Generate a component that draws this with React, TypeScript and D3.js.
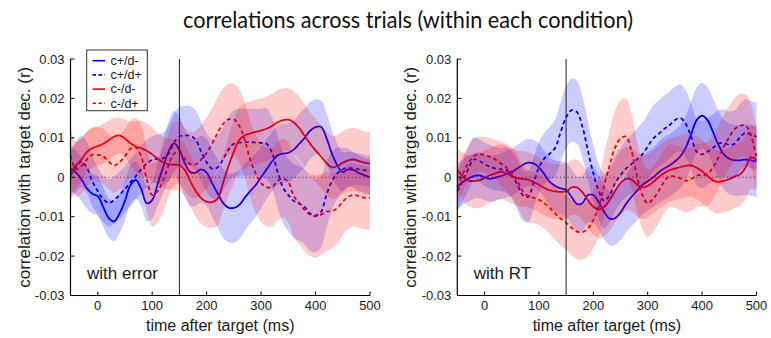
import React from "react";
import * as d3 from "d3";

const time = [-50, -40, -30, -20, -10, 0, 10, 20, 30, 40, 50, 60, 70, 80, 90, 100, 110, 120, 130, 140, 150, 160, 170, 180, 190, 200, 210, 220, 230, 240, 250, 260, 270, 280, 290, 300, 310, 320, 330, 340, 350, 360, 370, 380, 390, 400, 410, 420, 430, 440, 450, 460, 470, 480, 490, 500];

const xTicks = [0, 100, 200, 300, 400, 500];
const yTicks = [-0.03, -0.02, -0.01, 0, 0.01, 0.02, 0.03];
const seriesNames = ["c+/d-", "c+/d+", "c-/d-", "c-/d+"];
const panelLabels = ["with error", "with RT"];

// ---- left panel: with error ----
const errBlueSolid = [0.0022, 0.0012, -0.0005, -0.0028, -0.0042, -0.0048, -0.0075, -0.0103, -0.0112, -0.0092,
  -0.006, -0.002, -0.0007, -0.003, -0.0066, -0.0058, -0.0018, 0.0025, 0.0065, 0.0086,
  0.007, 0.0035, 0.0013, 0.0012, 0.002, 0.0012, -0.0015, -0.004, -0.0065, -0.0077,
  -0.0078, -0.007, -0.0052, -0.0035, -0.002, 0.0, 0.002, 0.004, 0.0055, 0.006,
  0.0062, 0.007, 0.0085, 0.01, 0.0118, 0.0127, 0.0128, 0.01, 0.006, 0.003,
  0.0013, 0.002, 0.0018, 0.001, 0.0005, 0.0];
const errBlueDashed = [0.0005, 0.0025, 0.004, 0.0025, -0.001, -0.0035, -0.0055, -0.0065, -0.0058, -0.0045,
  -0.003, -0.0013, 0.0003, 0.002, 0.0035, 0.0044, 0.0047, 0.0048, 0.006, 0.0088,
  0.0103, 0.0106, 0.0105, 0.0095, 0.0065, 0.0038, 0.0022, 0.0025, 0.0045, 0.007,
  0.0085, 0.0088, 0.0089, 0.0089, 0.0088, 0.0087, 0.0085, 0.0062, 0.0015, -0.0025,
  -0.0045, -0.006, -0.0067, -0.0075, -0.0092, -0.0097, -0.0088, -0.0045, -0.001, 0.001,
  0.002, 0.0024, 0.0022, 0.002, 0.0018, 0.0015];
const errRedSolid = [0.0012, 0.003, 0.0045, 0.0064, 0.0074, 0.0079, 0.0085, 0.0094, 0.0103, 0.0106,
  0.0098, 0.0086, 0.0078, 0.0074, 0.0067, 0.0058, 0.0047, 0.0038, 0.0033, 0.0032,
  0.0031, 0.0018, -0.001, -0.0035, -0.0053, -0.0062, -0.0063, -0.0055, -0.0015, 0.0028,
  0.0065, 0.0095, 0.0106, 0.0111, 0.0115, 0.0118, 0.0123, 0.013, 0.0139, 0.0145,
  0.0146, 0.0139, 0.0125, 0.0105, 0.0085, 0.0068, 0.0053, 0.0036, 0.0025, 0.0028,
  0.0037, 0.0043, 0.0045, 0.0041, 0.0037, 0.0035];
const errRedDashed = [0.0055, 0.002, 0.0028, 0.0045, 0.0057, 0.0057, 0.0053, 0.004, 0.003, 0.0038,
  0.0053, 0.0072, 0.0075, 0.0052, -0.0005, -0.0045, -0.0035, -0.0008, 0.003, 0.006,
  0.0063, 0.0047, 0.0033, 0.0033, 0.0045, 0.0062, 0.0085, 0.0112, 0.0135, 0.0147,
  0.0147, 0.013, 0.0095, 0.0045, 0.001, -0.0015, -0.0025, -0.0025, -0.001, -0.0003,
  -0.0012, -0.0048, -0.0065, -0.0083, -0.0095, -0.0099, -0.0095, -0.0087, -0.0086, -0.0078,
  -0.0062, -0.005, -0.0045, -0.0048, -0.0052, -0.0052];

const errBlueSolidCI = [0.0055, 0.0055, 0.0055, 0.0052, 0.005, 0.005, 0.005, 0.005, 0.005, 0.005,
  0.005, 0.005, 0.0048, 0.0045, 0.0045, 0.0048, 0.0055, 0.0065, 0.0075, 0.0082,
  0.0085, 0.0085, 0.0085, 0.0085, 0.0085, 0.0085, 0.0085, 0.0087, 0.0088, 0.0088,
  0.0088, 0.0087, 0.0085, 0.0082, 0.008, 0.0078, 0.0076, 0.0075, 0.0075, 0.0075,
  0.0075, 0.0075, 0.0075, 0.0075, 0.0073, 0.007, 0.0068, 0.0065, 0.006, 0.0055,
  0.005, 0.0045, 0.0045, 0.0045, 0.0045, 0.0045];
const errBlueDashedCI = [0.006, 0.0063, 0.0065, 0.0065, 0.0063, 0.006, 0.006, 0.006, 0.006, 0.006,
  0.006, 0.006, 0.006, 0.006, 0.006, 0.006, 0.0062, 0.0065, 0.007, 0.0073,
  0.0075, 0.0075, 0.0075, 0.0075, 0.0075, 0.0075, 0.0075, 0.0078, 0.008, 0.0082,
  0.0085, 0.0085, 0.0085, 0.0085, 0.0085, 0.0087, 0.009, 0.009, 0.009, 0.009,
  0.0092, 0.0093, 0.0094, 0.0095, 0.0095, 0.0093, 0.009, 0.0085, 0.0075, 0.0065,
  0.0055, 0.0048, 0.0042, 0.004, 0.004, 0.004];
const errRedSolidCI = [0.006, 0.0058, 0.0055, 0.0052, 0.005, 0.005, 0.005, 0.005, 0.0048, 0.0045,
  0.0048, 0.0055, 0.0065, 0.007, 0.007, 0.0068, 0.0065, 0.0065, 0.0065, 0.0065,
  0.0065, 0.0065, 0.0065, 0.0065, 0.0065, 0.0065, 0.0065, 0.0068, 0.007, 0.0075,
  0.008, 0.0082, 0.0082, 0.0082, 0.0082, 0.0082, 0.0082, 0.0082, 0.0082, 0.008,
  0.008, 0.008, 0.008, 0.008, 0.008, 0.008, 0.008, 0.008, 0.008, 0.008,
  0.008, 0.008, 0.008, 0.008, 0.008, 0.008];
const errRedDashedCI = [0.007, 0.007, 0.007, 0.007, 0.007, 0.007, 0.007, 0.007, 0.007, 0.007,
  0.007, 0.0072, 0.0075, 0.0078, 0.008, 0.008, 0.008, 0.008, 0.008, 0.008,
  0.008, 0.008, 0.0082, 0.0085, 0.0088, 0.009, 0.009, 0.009, 0.009, 0.009,
  0.009, 0.0092, 0.0095, 0.0097, 0.0099, 0.01, 0.01, 0.01, 0.01, 0.01,
  0.0102, 0.0104, 0.0105, 0.0105, 0.0105, 0.0105, 0.0103, 0.01, 0.0095, 0.009,
  0.0085, 0.0082, 0.008, 0.008, 0.008, 0.008];

// ---- right panel: with RT ----
const rtBlueSolid = [-0.0025, -0.0012, -0.0004, 0.0003, 0.0005, 0.0, -0.0004, -0.0001, 0.0003, 0.0008,
  0.0013, 0.0022, 0.0031, 0.0037, 0.0035, 0.0025, 0.0008, -0.0012, -0.0022, -0.0028,
  -0.0032, -0.005, -0.0068, -0.0066, -0.0045, -0.0045, -0.0063, -0.0088, -0.0105, -0.0104,
  -0.009, -0.0068, -0.005, -0.0035, -0.002, -0.001, 0.0, 0.0012, 0.0022, 0.003,
  0.004, 0.0053, 0.0075, 0.011, 0.0145, 0.0156, 0.0145, 0.0115, 0.0082, 0.0058,
  0.0047, 0.0043, 0.0043, 0.0045, 0.0043, 0.004];
const rtBlueDashed = [-0.0035, -0.001, 0.002, 0.0045, 0.0042, 0.0033, 0.0027, 0.0022, 0.002, 0.0018,
  0.0005, -0.0018, -0.0045, -0.005, -0.0015, 0.0025, 0.0048, 0.006, 0.0075, 0.0115,
  0.0152, 0.017, 0.0165, 0.0128, 0.0068, 0.001, -0.0035, -0.006, -0.0045, -0.0015,
  0.0005, 0.0022, 0.0033, 0.0045, 0.0058, 0.0078, 0.0098, 0.011, 0.0122, 0.0132,
  0.0145, 0.015, 0.0135, 0.0102, 0.0065, 0.0058, 0.0065, 0.0075, 0.0085, 0.0087,
  0.0082, 0.0085, 0.0102, 0.0113, 0.0108, 0.0103];
const rtRedSolid = [0.0018, 0.0003, -0.0008, -0.001, -0.0008, -0.0002, 0.0005, 0.001, 0.0014, 0.001,
  0.0003, -0.0002, -0.0004, -0.0006, -0.0012, -0.0019, -0.0027, -0.0033, -0.0036, -0.0037,
  -0.0036, -0.0026, -0.0026, -0.0038, -0.0058, -0.0075, -0.0082, -0.0075, -0.0058, -0.0035,
  -0.0015, -0.0004, -0.0006, -0.0018, -0.0026, -0.0022, -0.0012, 0.0, 0.001, 0.0018,
  0.0022, 0.0026, 0.0029, 0.003, 0.0024, 0.0015, 0.0003, -0.0008, -0.0012, -0.0009,
  -0.0005, 0.0002, 0.0008, 0.0025, 0.0051, 0.0045];
const rtRedDashed = [-0.0025, 0.0008, 0.0035, 0.0053, 0.0058, 0.0057, 0.0052, 0.0045, 0.0035, 0.0025,
  0.0013, -0.0008, -0.0035, -0.0048, -0.0052, -0.0057, -0.0066, -0.0078, -0.0092, -0.0105,
  -0.0115, -0.0128, -0.0138, -0.0139, -0.013, -0.0108, -0.0075, -0.002, 0.003, 0.0075,
  0.0098, 0.0103, 0.0068, 0.0005, -0.0045, -0.0066, -0.0055, -0.0035, -0.0012, 0.0003,
  0.0002, -0.0003, -0.0009, -0.0005, 0.0005, 0.0005, 0.0008, 0.0025, 0.005, 0.0078,
  0.0102, 0.0122, 0.0131, 0.0131, 0.0105, 0.005];

const rtBlueSolidCI = [0.0058, 0.0058, 0.0058, 0.0058, 0.0058, 0.0058, 0.0058, 0.0058, 0.0058, 0.006,
  0.006, 0.006, 0.006, 0.006, 0.006, 0.006, 0.006, 0.0062, 0.0065, 0.0068,
  0.007, 0.007, 0.007, 0.007, 0.007, 0.007, 0.007, 0.007, 0.0068, 0.0068,
  0.007, 0.0072, 0.0075, 0.0075, 0.0075, 0.0075, 0.0076, 0.0078, 0.008, 0.008,
  0.008, 0.008, 0.0082, 0.0083, 0.0083, 0.0083, 0.0083, 0.0085, 0.0087, 0.0088,
  0.009, 0.009, 0.009, 0.009, 0.009, 0.009];
const rtBlueDashedCI = [0.005, 0.0052, 0.0055, 0.0055, 0.0055, 0.0055, 0.0055, 0.0055, 0.0055, 0.0058,
  0.006, 0.0063, 0.0065, 0.0065, 0.0065, 0.0065, 0.0065, 0.0068, 0.0072, 0.0076,
  0.008, 0.008, 0.008, 0.0078, 0.0075, 0.0072, 0.007, 0.007, 0.007, 0.007,
  0.007, 0.0072, 0.0075, 0.0078, 0.008, 0.0082, 0.0084, 0.0085, 0.0085, 0.0085,
  0.0085, 0.0085, 0.0085, 0.0085, 0.0085, 0.0085, 0.0085, 0.0085, 0.0085, 0.0085,
  0.0085, 0.0085, 0.0085, 0.0085, 0.0085, 0.0085];
const rtRedSolidCI = [0.0055, 0.006, 0.0065, 0.0068, 0.007, 0.007, 0.007, 0.007, 0.007, 0.007,
  0.007, 0.007, 0.007, 0.007, 0.007, 0.007, 0.007, 0.007, 0.007, 0.007,
  0.007, 0.007, 0.007, 0.007, 0.007, 0.007, 0.0072, 0.0075, 0.0078, 0.008,
  0.008, 0.008, 0.008, 0.008, 0.008, 0.008, 0.008, 0.008, 0.008, 0.008,
  0.008, 0.008, 0.008, 0.008, 0.008, 0.008, 0.008, 0.008, 0.008, 0.008,
  0.008, 0.008, 0.008, 0.008, 0.008, 0.008];
const rtRedDashedCI = [0.0045, 0.0045, 0.0045, 0.0045, 0.0045, 0.0045, 0.0048, 0.005, 0.0055, 0.006,
  0.0062, 0.0065, 0.0065, 0.0065, 0.0065, 0.0065, 0.0065, 0.0066, 0.0067, 0.0068,
  0.0069, 0.007, 0.007, 0.007, 0.007, 0.0072, 0.0075, 0.008, 0.0088, 0.0095,
  0.0097, 0.0097, 0.0095, 0.009, 0.0087, 0.0085, 0.0083, 0.0082, 0.008, 0.008,
  0.008, 0.008, 0.008, 0.008, 0.008, 0.008, 0.008, 0.008, 0.008, 0.008,
  0.008, 0.008, 0.008, 0.008, 0.008, 0.0078];

const BLUE = "#0000ff";
const RED = "#ff0000";
const styles = [
  { color: BLUE, dash: null },
  { color: BLUE, dash: "4,3" },
  { color: RED, dash: null },
  { color: RED, dash: "4,3" },
];

const FONT = "'Liberation Sans', Arial, sans-serif";
const Y_TOP = 59;
const Y_BOT = 295.5;

function fmtY(v: number) {
  if (Math.abs(v) < 1e-9) return "0";
  return v.toFixed(2);
}

type PanelProps = {
  x0: number;
  x1: number;
  means: number[][];
  cis: number[][];
  label: string;
  showLegend: boolean;
};

function Panel({ x0, x1, means, cis, label, showLegend }: PanelProps) {
  const x = d3.scaleLinear().domain([-50, 500]).range([x0, x1]);
  const y = d3.scaleLinear().domain([-0.03, 0.03]).range([Y_BOT, Y_TOP]);
  const curve = d3.curveCatmullRom.alpha(0.5);
  const line = d3
    .line<number>()
    .x((_, i) => x(time[i]))
    .y((d) => y(d))
    .curve(curve);
  const area = (m: number[], e: number[]) =>
    d3
      .area<number>()
      .x((_, i) => x(time[i]))
      .y0((d, i) => y(d - e[i]))
      .y1((d, i) => y(d + e[i]))
      .curve(curve)(m) || "";

  const ylabX = x0 - 41;
  const ymid = (Y_TOP + Y_BOT) / 2;
  return (
    <g>
      <line x1={x0} x2={x1} y1={y(0)} y2={y(0)} stroke="#555" strokeWidth={1.1} strokeDasharray="1.2,2.6" />
      {means.map((m, k) => (
        <path
          key={"l" + k}
          d={line(m) || ""}
          fill="none"
          stroke={styles[k].color}
          strokeWidth={1.8}
          strokeDasharray={styles[k].dash || undefined}
        />
      ))}
      {means.map((m, k) => (
        <path key={"a" + k} d={area(m, cis[k])} fill={styles[k].color} fillOpacity={0.2} stroke="none" />
      ))}
      <line x1={x(150)} x2={x(150)} y1={Y_TOP} y2={Y_BOT} stroke="#222" strokeWidth={1} />
      <line x1={x0} x2={x0} y1={Y_TOP} y2={Y_BOT} stroke="#000" strokeWidth={1.2} />
      <line x1={x0} x2={x1} y1={Y_BOT} y2={Y_BOT} stroke="#000" strokeWidth={1.2} />
      {yTicks.map((t) => (
        <g key={"yt" + t}>
          <line x1={x0} x2={x0 + 4} y1={y(t)} y2={y(t)} stroke="#000" strokeWidth={1} />
          <text x={x0 - 6} y={y(t) + 4.5} textAnchor="end" fontFamily={FONT} fontSize={13} fill="#1a1a1a">
            {fmtY(t)}
          </text>
        </g>
      ))}
      {xTicks.map((t) => (
        <g key={"xt" + t}>
          <line x1={x(t)} x2={x(t)} y1={Y_BOT} y2={Y_BOT - 4} stroke="#000" strokeWidth={1} />
          <text x={x(t)} y={310} textAnchor="middle" fontFamily={FONT} fontSize={13} fill="#1a1a1a">
            {String(t)}
          </text>
        </g>
      ))}
      <text x={(x0 + x1) / 2} y={331} textAnchor="middle" fontFamily={FONT} fontSize={16} fill="#1a1a1a">
        time after target (ms)
      </text>
      <text
        transform={`translate(${ylabX},${ymid}) rotate(-90)`}
        textAnchor="middle"
        fontFamily={FONT}
        fontSize={17}
        fill="#1a1a1a"
      >
        correlation with target dec. (r)
      </text>
      <text x={x0 + 16.5} y={279} fontFamily={FONT} fontSize={17} fill="#1a1a1a">
        {label}
      </text>
      {showLegend && (
        <g>
          <rect x={86.7} y={50} width={60.6} height={60.7} fill="#fff" stroke="#333" strokeWidth={1} />
          {seriesNames.map((n, k) => (
            <g key={"lg" + k}>
              <line
                x1={92.5}
                x2={105}
                y1={60.7 + k * 14.2}
                y2={60.7 + k * 14.2}
                stroke={styles[k].color}
                strokeWidth={1.6}
                strokeDasharray={styles[k].dash ? "3.5,2.5" : undefined}
              />
              <text x={110.5} y={60.7 + k * 14.2 + 4.3} fontFamily={FONT} fontSize={12.5} fill="#1a1a1a">
                {n}
              </text>
            </g>
          ))}
        </g>
      )}
    </g>
  );
}

export default function App() {
  return (
    <svg
      width={771}
      height={338}
      viewBox="0 0 771 338"
      style={{ position: "absolute", left: 0, top: 0, background: "#fff" }}
    >
      <rect x={0} y={0} width={771} height={338} fill="#fff" />
      <text
        x={183}
        y={28}
        fontFamily="Lato, 'Open Sans', sans-serif"
        fontSize={24}
        fill="#111"
        textLength={450}
        lengthAdjust="spacingAndGlyphs"
      >
        correlations across trials (within each condition)
      </text>
      <Panel
        x0={70.5}
        x1={370}
        means={[errBlueSolid, errBlueDashed, errRedSolid, errRedDashed]}
        cis={[errBlueSolidCI, errBlueDashedCI, errRedSolidCI, errRedDashedCI]}
        label={panelLabels[0]}
        showLegend={true}
      />
      <Panel
        x0={457.3}
        x1={756.5}
        means={[rtBlueSolid, rtBlueDashed, rtRedSolid, rtRedDashed]}
        cis={[rtBlueSolidCI, rtBlueDashedCI, rtRedSolidCI, rtRedDashedCI]}
        label={panelLabels[1]}
        showLegend={false}
      />
    </svg>
  );
}
